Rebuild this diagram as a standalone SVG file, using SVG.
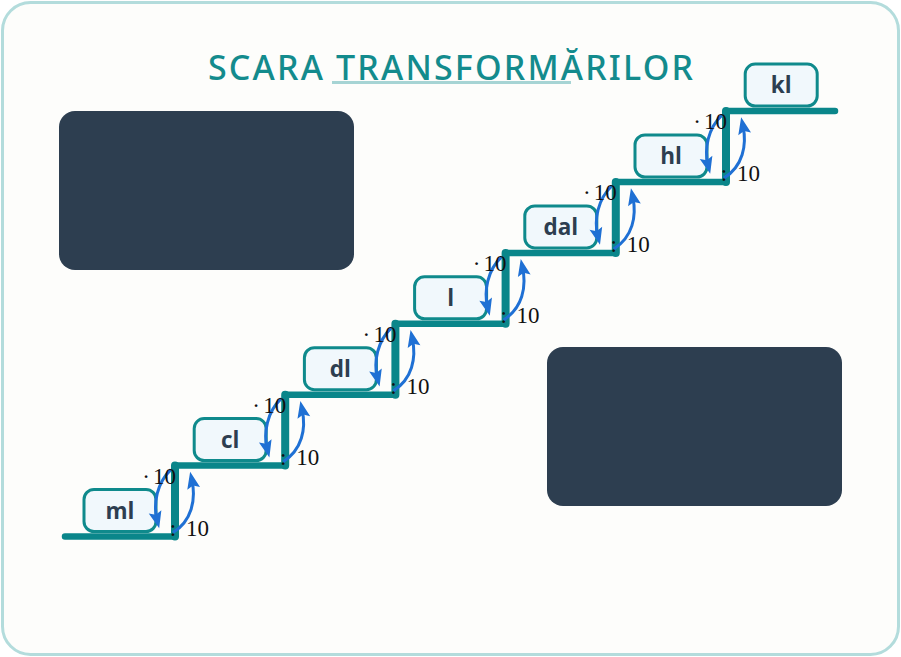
<svg xmlns="http://www.w3.org/2000/svg" width="901" height="657" viewBox="0 0 901 657">
<defs>
<style>
.stair{fill:none;stroke:#0a868a;stroke-width:6.5;stroke-linecap:round;stroke-linejoin:round}
.riser{fill:none;stroke:#0a868a;stroke-width:8;stroke-linecap:round}
.box rect{fill:#f1f8fc;stroke:#0f8a8c;stroke-width:3}
.box text{font-family:"Open Sans","Noto Sans","DejaVu Sans",sans-serif;font-weight:bold;font-size:22.5px;fill:#2d3e50;text-anchor:middle}
.arr{fill:none;stroke:#1f70d4;stroke-width:3;marker-end:url(#ah)}
.lab{font-family:"Liberation Serif","DejaVu Serif",serif;font-size:23px;fill:#111}
.mid{text-anchor:middle}
.panel{fill:#2d3e50}
</style>
<marker id="ah" viewBox="-9 -8 20 16" refX="0" refY="0" markerWidth="20" markerHeight="16" markerUnits="userSpaceOnUse" orient="auto">
<path d="M9,0 L-8,-6.5 L-5,0 L-8,6.5 Z" fill="#1f70d4"/>
</marker>
</defs>
<rect x="2.5" y="2.5" width="896" height="652" rx="28" fill="#fdfdfb" stroke="#b3dcdc" stroke-width="3"/>
<g id="title">
<line x1="332" y1="82.5" x2="571" y2="82.5" stroke="#a6d4d4" stroke-width="3"/>
<text x="450.5" y="80" text-anchor="middle" textLength="485" lengthAdjust="spacing" font-family="Noto Sans,Open Sans,sans-serif" font-weight="500" font-size="34" fill="#138b8d">SCARA TRANSFORMĂRILOR</text>
</g>
<g id="panel-left"><rect class="panel" x="59" y="111" width="295" height="159" rx="16"/></g>
<g id="panel-right"><rect class="panel" x="547" y="347" width="295" height="159" rx="16"/></g>
<g id="staircase">
<path class="stair" d="M65,536.5 H175 V465.6 H285.2 V394.7 H395.4 V323.8 H505.6 V252.9 H615.8 V182 H726 V111.1 H835"/>
<path class="riser" d="M175,536.5 V465.6 M285.2,465.6 V394.7 M395.4,394.7 V323.8 M505.6,323.8 V252.9 M615.8,252.9 V182 M726,182 V111.1"/>
</g>
<g id="box-ml" class="box"><rect x="84" y="489.5" width="72" height="42" rx="10"/><text x="120" y="518.5">ml</text></g>
<g id="box-cl" class="box"><rect x="194.2" y="418.6" width="72" height="42" rx="10"/><text x="230.2" y="447.6">cl</text></g>
<g id="box-dl" class="box"><rect x="304.4" y="347.7" width="72" height="42" rx="10"/><text x="340.4" y="376.7">dl</text></g>
<g id="box-l" class="box"><rect x="414.6" y="276.8" width="72" height="42" rx="10"/><text x="450.6" y="305.8">l</text></g>
<g id="box-dal" class="box"><rect x="524.8" y="205.9" width="72" height="42" rx="10"/><text x="560.8" y="234.9">dal</text></g>
<g id="box-hl" class="box"><rect x="635" y="135" width="72" height="42" rx="10"/><text x="671" y="164">hl</text></g>
<g id="box-kl" class="box"><rect x="745.2" y="64.1" width="72" height="42" rx="10"/><text x="781.2" y="93.1">kl</text></g>
<g id="connectors">
<g transform="translate(175,465.6)"><path class="arr" d="M-4,4 C-18,17 -22,38 -18,54"/><path class="arr" d="M-2,67 C17,55 21,34 17,15"/></g>
<g transform="translate(285.2,394.7)"><path class="arr" d="M-4,4 C-18,17 -22,38 -18,54"/><path class="arr" d="M-2,67 C17,55 21,34 17,15"/></g>
<g transform="translate(395.4,323.8)"><path class="arr" d="M-4,4 C-18,17 -22,38 -18,54"/><path class="arr" d="M-2,67 C17,55 21,34 17,15"/></g>
<g transform="translate(505.6,252.9)"><path class="arr" d="M-4,4 C-18,17 -22,38 -18,54"/><path class="arr" d="M-2,67 C17,55 21,34 17,15"/></g>
<g transform="translate(615.8,182)"><path class="arr" d="M-4,4 C-18,17 -22,38 -18,54"/><path class="arr" d="M-2,67 C17,55 21,34 17,15"/></g>
<g transform="translate(726,111.1)"><path class="arr" d="M-4,4 C-18,17 -22,38 -18,54"/><path class="arr" d="M-2,67 C17,55 21,34 17,15"/></g>
</g>
<g id="labels" class="lab">
<g transform="translate(175,465.6)"><text class="mid" x="-29" y="18">·</text><text x="-22" y="18">10</text><text class="mid" x="-2" y="70">:</text><text x="11" y="70">10</text></g>
<g transform="translate(285.2,394.7)"><text class="mid" x="-29" y="18">·</text><text x="-22" y="18">10</text><text class="mid" x="-2" y="70">:</text><text x="11" y="70">10</text></g>
<g transform="translate(395.4,323.8)"><text class="mid" x="-29" y="18">·</text><text x="-22" y="18">10</text><text class="mid" x="-2" y="70">:</text><text x="11" y="70">10</text></g>
<g transform="translate(505.6,252.9)"><text class="mid" x="-29" y="18">·</text><text x="-22" y="18">10</text><text class="mid" x="-2" y="70">:</text><text x="11" y="70">10</text></g>
<g transform="translate(615.8,182)"><text class="mid" x="-29" y="18">·</text><text x="-22" y="18">10</text><text class="mid" x="-2" y="70">:</text><text x="11" y="70">10</text></g>
<g transform="translate(726,111.1)"><text class="mid" x="-29" y="18">·</text><text x="-22" y="18">10</text><text class="mid" x="-2" y="70">:</text><text x="11" y="70">10</text></g>
</g>
</svg>
